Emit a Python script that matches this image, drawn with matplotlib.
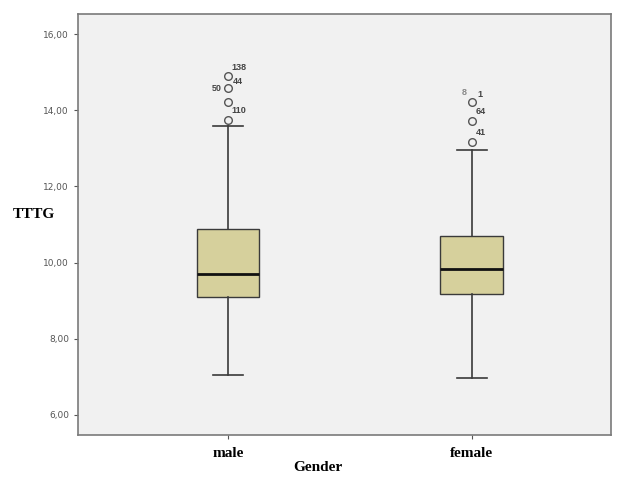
import matplotlib
matplotlib.use("Agg")
import matplotlib.pyplot as plt
from matplotlib.ticker import FuncFormatter

groups = ["male", "female"]
q1 = [9.10, 9.18]
med = [9.71, 9.82]
q3 = [10.89, 10.71]
whislo = [7.05, 6.97]
whishi = [13.58, 12.97]
fliers = [[13.74, 14.21, 14.58, 14.89], [13.16, 13.71, 14.21]]
# case numbers printed next to the outliers (value, label)
case_labels = [[(13.74, "110"), (14.21, "50"), (14.58, "44"), (14.89, "138")],
               [(13.16, "41"), (13.71, "64"), (14.21, "1"), (14.21, "8")]]

stats = []
for i, g in enumerate(groups):
    stats.append(dict(label=g, q1=q1[i], med=med[i], q3=q3[i],
                      whislo=whislo[i], whishi=whishi[i], fliers=fliers[i]))

fig = plt.figure(figsize=(6.22, 4.83), dpi=100)
ax = fig.add_axes([0.1254, 0.0994, 0.8566, 0.8716])
ax.set_facecolor("#f1f1f1")

ax.bxp(stats, positions=[1, 2], widths=0.258, capwidths=0.125, patch_artist=True,
       boxprops=dict(facecolor="#d6d09c", edgecolor="#3a3a3a", linewidth=1.0),
       medianprops=dict(color="#111111", linewidth=2.0),
       whiskerprops=dict(color="#3a3a3a", linewidth=1.2),
       capprops=dict(color="#3a3a3a", linewidth=1.2),
       flierprops=dict(marker="o", markersize=5.5, markerfacecolor="none",
                       markeredgecolor="#555555", markeredgewidth=1.0))

# pixel offsets of each label from its circle (centre of text)
offsets = {"110": (11, 10), "50": (-11, 14), "44": (10, 7), "138": (11, 9),
           "41": (9, 10), "64": (9, 10), "1": (8, 8), "8": (-8, 10)}
for i in range(len(groups)):
    for v, lab in case_labels[i]:
        dx, dy = offsets[lab]
        ax.annotate(lab, (i + 1, v), xytext=(dx * 0.72, dy * 0.72),
                    textcoords="offset points", fontsize=6.5,
                    fontfamily="Liberation Sans", fontweight="bold",
                    color="#444444" if lab != "8" else "#888888",
                    ha="center", va="center")

ax.set_xlim(0.385, 2.57)
ax.set_ylim(5.47, 16.53)
ax.set_yticks([6, 8, 10, 12, 14, 16])
ax.yaxis.set_major_formatter(FuncFormatter(lambda v, p: f"{v:.2f}".replace(".", ",")))
ax.tick_params(axis="y", labelsize=6.5, labelcolor="#555555", length=3, color="#555555")
ax.tick_params(axis="x", length=3, color="#555555", pad=6)
ax.set_xticks([1, 2])
ax.set_xticklabels(groups, fontfamily="Liberation Serif", fontweight="bold", fontsize=11)
for s in ax.spines.values():
    s.set_color("#7a7a7a")
    s.set_linewidth(1.2)

ax.set_xlabel("Gender", fontfamily="Liberation Serif", fontweight="bold", fontsize=11)
ax.xaxis.set_label_coords(0.45, -0.062)
ax.set_ylabel("TTTG", fontfamily="Liberation Serif", fontweight="bold", fontsize=11,
              rotation=0, ha="center", va="center")
ax.yaxis.set_label_coords(-0.0835, 0.5226)

fig.savefig("out.png", dpi=100)
